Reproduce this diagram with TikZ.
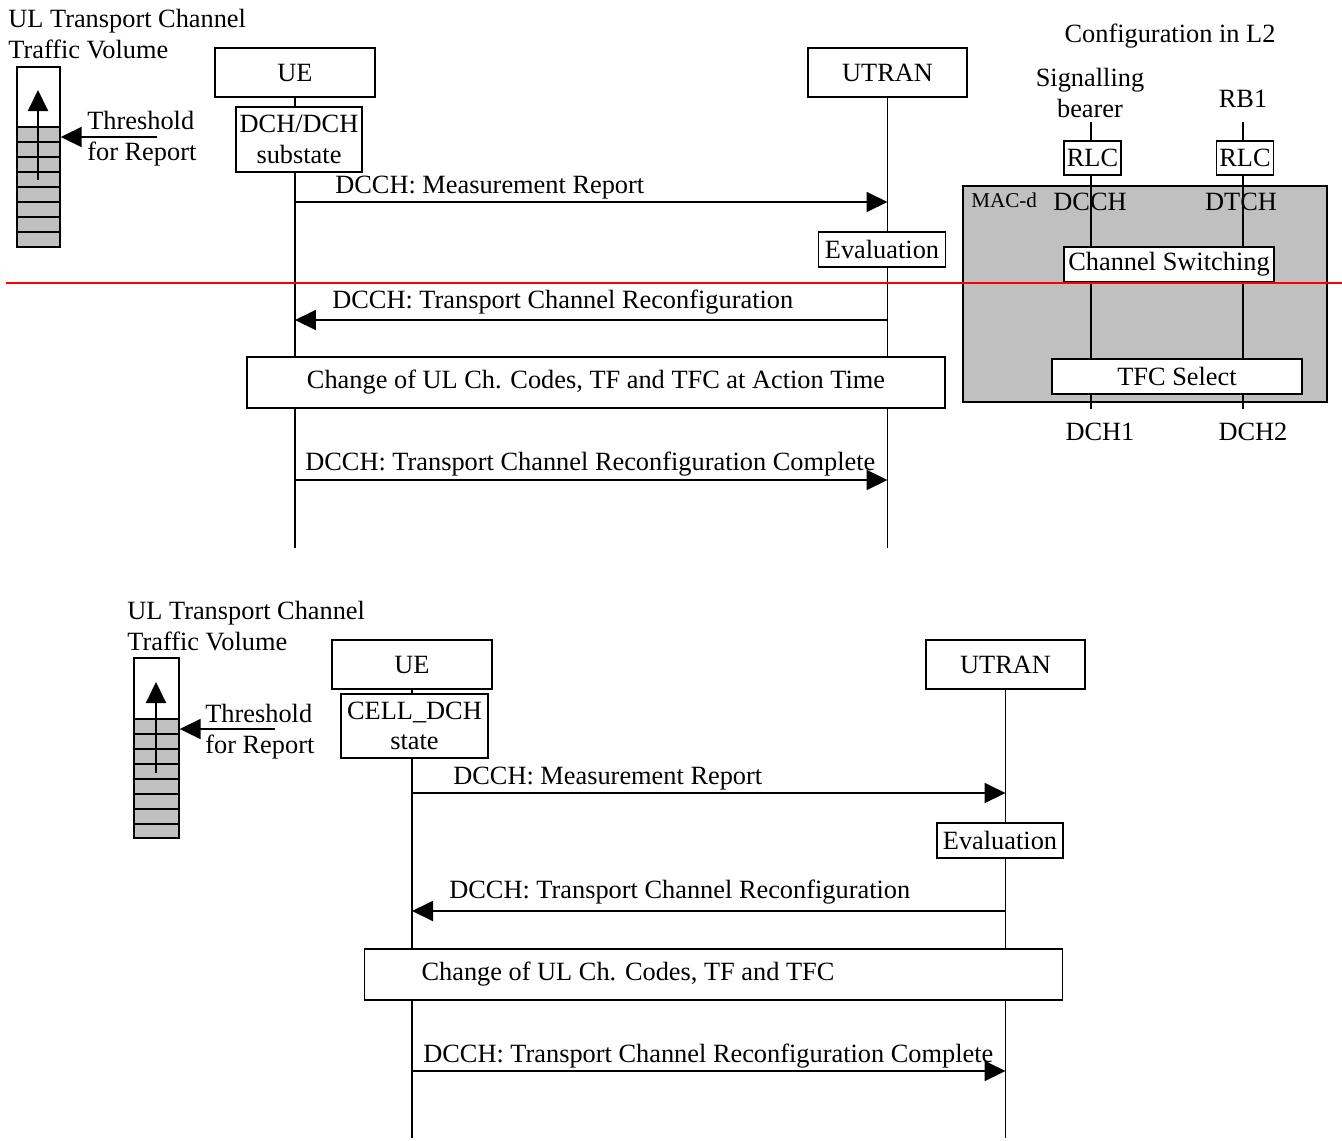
\documentclass[tikz,border=0pt]{standalone}
\usepackage{fontspec}
\setmainfont{Liberation Serif}
\usetikzlibrary{arrows.meta, positioning}
\definecolor{cellgray}{RGB}{192,192,192}

\begin{document}
\begin{tikzpicture}[
  x=0.02cm, y=-0.02cm,
  font=\fontsize{15}{17.5}\selectfont,
  box/.style={draw, fill=white, line width=0.8pt, inner sep=0pt, align=center},
  txt/.style={inner sep=0pt, align=left},
  lbl/.style={inner sep=0pt, anchor=base west},
  msg/.style={line width=1.1pt, -{Triangle[length=0.42cm, width=0.4cm]}},
  life/.style={line width=0.8pt},
]
\useasboundingbox (0,0) rectangle (1342,1140);

% ---- upper chart: traffic volume ----
\node[txt, anchor=west] (title1) at (8,34) {UL Transport Channel\\Traffic Volume};
\fill[cellgray] (17,127) rectangle (60,247);
\foreach \y in {127,142,...,232} \draw[life] (17,\y) -- (60,\y);
\node[draw, line width=0.8pt, minimum width=0.86cm, minimum height=3.6cm, inner sep=0pt] (vol1) at (38.5,157) {};
\coordinate (lvl1) at (38,180);
\coordinate (peak1) at (38,90);
\draw[msg] (lvl1) -- (peak1);
\node[txt, anchor=west] (thr1) at (87,139) {Threshold\\for Report};
\coordinate (thrTail1) at (157,137);
\draw[msg] (thrTail1) -- (thrTail1 -| vol1.east);

% ---- upper chart: entities ----
\node[box, minimum width=3.2cm, minimum height=0.98cm] (ue1) at (295,72.5) {UE};
\node[box, minimum width=3.18cm, minimum height=0.98cm] (utran1) at (887.5,72.5) {UTRAN};
\draw[life] (ue1) -- (ue1 |- 0,548);
\draw[life] (utran1) -- (utran1 |- 0,548);
\node[box, minimum width=2.52cm, minimum height=1.3cm] (sub1) at (299,139.5) {DCH/DCH\\substate};
\node[box, minimum width=2.54cm, minimum height=0.7cm] (eval1) at (882,249.5) {Evaluation};
\node[box, minimum width=13.96cm, minimum height=1.02cm] (chg1) at (596,382.5)
  {Change of UL Ch. Codes, TF and TFC at Action Time};

% ---- upper chart: messages ----
\draw[msg] (ue1 |- 0,202) -- (utran1 |- 0,202);
\node[lbl] (m1) at (335,193) {DCCH: Measurement Report};
\draw[msg] (utran1 |- 0,320) -- (ue1 |- 0,320);
\node[lbl] (m2) at (332,308) {DCCH: Transport Channel Reconfiguration};
\draw[msg] (ue1 |- 0,480) -- (utran1 |- 0,480);
\node[lbl] (m3) at (305,470) {DCCH: Transport Channel Reconfiguration Complete};

% ---- configuration in L2 ----
\node (cfg) at (1170,36) {Configuration in L2};
\node[inner sep=0pt, align=center] (sigb) at (1090,93) {Signalling\\bearer};
\node (rb1) at (1243,99) {RB1};
\node[draw, fill=cellgray, line width=0.8pt, minimum width=7.28cm, minimum height=4.32cm] (macd) at (1145,294) {};
\node[inner sep=0pt, anchor=west, font=\fontsize{12}{14}\selectfont] (macl) at (971,200) {MAC-d};
\node[inner sep=0pt] (dcch) at (1090,202) {DCCH};
\node[inner sep=0pt] (dtch) at (1241,202) {DTCH};
\coordinate (sbTop) at (1091,122);
\coordinate (sbBot) at (1091,409);
\coordinate (rbTop) at (1243,122);
\coordinate (rbBot) at (1243,409);
\draw[life] (sbTop) -- (sbBot);
\draw[life] (rbTop) -- (rbBot);
\node[box, minimum width=1.14cm, minimum height=0.68cm] (rlcA) at (1092.5,158) {RLC};
\node[box, minimum width=1.14cm, minimum height=0.68cm] (rlcB) at (1245,158) {RLC};
\node[box, minimum width=4.2cm, minimum height=0.7cm] (chsw) at (1169,264.5) {Channel Switching};
\node[box, minimum width=5cm, minimum height=0.7cm] (tfc) at (1177,376.5) {TFC Select};
\node (dch1) at (1100,432) {DCH1};
\node (dch2) at (1253,432) {DCH2};

% ---- lower chart: traffic volume ----
\node[txt, anchor=west] (title2) at (127,626) {UL Transport Channel\\Traffic Volume};
\fill[cellgray] (134,719) rectangle (179,838);
\foreach \y in {719,734,...,824} \draw[life] (134,\y) -- (179,\y);
\node[draw, line width=0.8pt, minimum width=0.9cm, minimum height=3.6cm, inner sep=0pt] (vol2) at (156.5,748) {};
\coordinate (lvl2) at (156,773);
\coordinate (peak2) at (156,682);
\draw[msg] (lvl2) -- (peak2);
\node[txt, anchor=west] (thr2) at (205,732) {Threshold\\for Report};
\coordinate (thrTail2) at (275,729);
\draw[msg] (thrTail2) -- (thrTail2 -| vol2.east);

% ---- lower chart: entities ----
\node[box, minimum width=3.2cm, minimum height=0.98cm] (ue2) at (412,664.5) {UE};
\node[box, minimum width=3.18cm, minimum height=0.98cm] (utran2) at (1005.5,664.5) {UTRAN};
\draw[life] (ue2) -- (ue2 |- 0,1138);
\draw[life] (utran2) -- (utran2 |- 0,1138);
\node[box, minimum width=2.94cm, minimum height=1.28cm] (sub2) at (414.5,726) {CELL\_DCH\\state};
\node[box, minimum width=2.52cm, minimum height=0.7cm] (eval2) at (1000,840.5) {Evaluation};
\node[box, minimum height=1.02cm, text width=11.68cm, inner xsep=1.14cm, align=flush left] (chg2) at (713.5,974.5)
  {Change of UL Ch. Codes, TF and TFC};

% ---- lower chart: messages ----
\draw[msg] (ue2 |- 0,793) -- (utran2 |- 0,793);
\node[lbl] (n1) at (453,784) {DCCH: Measurement Report};
\draw[msg] (utran2 |- 0,911) -- (ue2 |- 0,911);
\node[lbl] (n2) at (449,898) {DCCH: Transport Channel Reconfiguration};
\draw[msg] (ue2 |- 0,1071) -- (utran2 |- 0,1071);
\node[lbl] (n3) at (423,1062) {DCCH: Transport Channel Reconfiguration Complete};

% ---- cut line ----
\coordinate (cutL) at (6,283);
\coordinate (cutR) at (1342,283);
\draw[red, line width=1.1pt] (cutL) -- (cutR);

\end{tikzpicture}
\end{document}
